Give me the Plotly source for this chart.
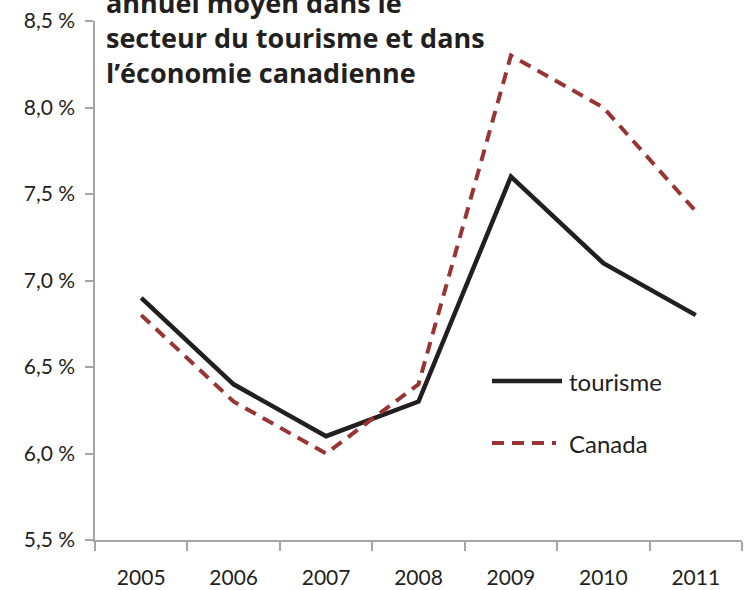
import plotly.graph_objects as go

years = ["2005", "2006", "2007", "2008", "2009", "2010", "2011"]
tourisme = [6.9, 6.4, 6.1, 6.3, 7.6, 7.1, 6.8]
canada = [6.8, 6.3, 6.0, 6.4, 8.3, 8.0, 7.4]
y_tickvals = [5.5, 6.0, 6.5, 7.0, 7.5, 8.0, 8.5]
y_ticktext = ["5,5 %", "6,0 %", "6,5 %", "7,0 %", "7,5 %", "8,0 %", "8,5 %"]
title_lines = ["annuel moyen dans le", "secteur du tourisme et dans", "l\u2019économie canadienne"]
series_names = ["tourisme", "Canada"]

W, H = 744, 590
ML, MR, MT, MB = 95, 2, 21, 50
PW, PH = W - ML - MR, H - MT - MB

def px_x(p):
    return (p - ML) / PW

def px_y(p):
    return 1 - (p - MT) / PH

BLACK = "#231f20"
RED = "#983434"
AXIS = "#a6a6a6"
FONT = "Lato"
TFONT = "Open Sans"

fig = go.Figure()
fig.add_trace(go.Scatter(x=years, y=tourisme, mode="lines", name=series_names[0],
                         line=dict(color=BLACK, width=4.5), showlegend=False))
fig.add_trace(go.Scatter(x=years, y=canada, mode="lines", name=series_names[1],
                         line=dict(color=RED, width=4, dash="12px,8px"), showlegend=False))

# manual legend
fig.add_shape(type="line", xref="paper", yref="paper",
              x0=px_x(492), x1=px_x(562), y0=px_y(381), y1=px_y(381),
              line=dict(color=BLACK, width=4.5))
fig.add_shape(type="line", xref="paper", yref="paper",
              x0=px_x(492), x1=px_x(556), y0=px_y(443), y1=px_y(443),
              line=dict(color=RED, width=4, dash="12px,8px"))
for name, py in zip(series_names, [381, 443]):
    fig.add_annotation(text=name, xref="paper", yref="paper", x=px_x(567), y=px_y(py),
                       xanchor="left", yanchor="middle", showarrow=False,
                       font=dict(family=FONT, size=24, color=BLACK))

for line, py in zip(title_lines, [3, 38, 72]):
    fig.add_annotation(text="<b>" + line + "</b>", xref="paper", yref="paper",
                       x=px_x(104), y=px_y(py), xanchor="left", yanchor="middle",
                       showarrow=False, font=dict(family=TFONT, size=27, color=BLACK))

fig.update_layout(
    width=W, height=H,
    margin=dict(l=ML, r=MR, t=MT, b=MB),
    paper_bgcolor="white", plot_bgcolor="white",
    showlegend=False,
    xaxis=dict(type="category", range=[-0.5, 6.5], tickson="boundaries",
               showline=True, linecolor=AXIS, linewidth=1.5, automargin=False,
               ticks="outside", ticklen=9, tickcolor=AXIS, tickwidth=1.5,
               showgrid=False, zeroline=False, ticklabelstandoff=18,
               tickfont=dict(family=FONT, size=21, color=BLACK)),
    yaxis=dict(range=[5.5, 8.5], tickvals=y_tickvals, ticktext=y_ticktext,
               showline=True, linecolor=AXIS, linewidth=1.5, automargin=False,
               ticks="outside", ticklen=8, tickcolor=AXIS, tickwidth=1.5,
               showgrid=False, zeroline=False, ticklabelstandoff=6,
               tickfont=dict(family=FONT, size=21, color=BLACK)),
)

fig.write_html("out.html", config={"displayModeBar": False},
               post_script="document.body.style.margin='0';document.body.style.overflow='hidden';")
